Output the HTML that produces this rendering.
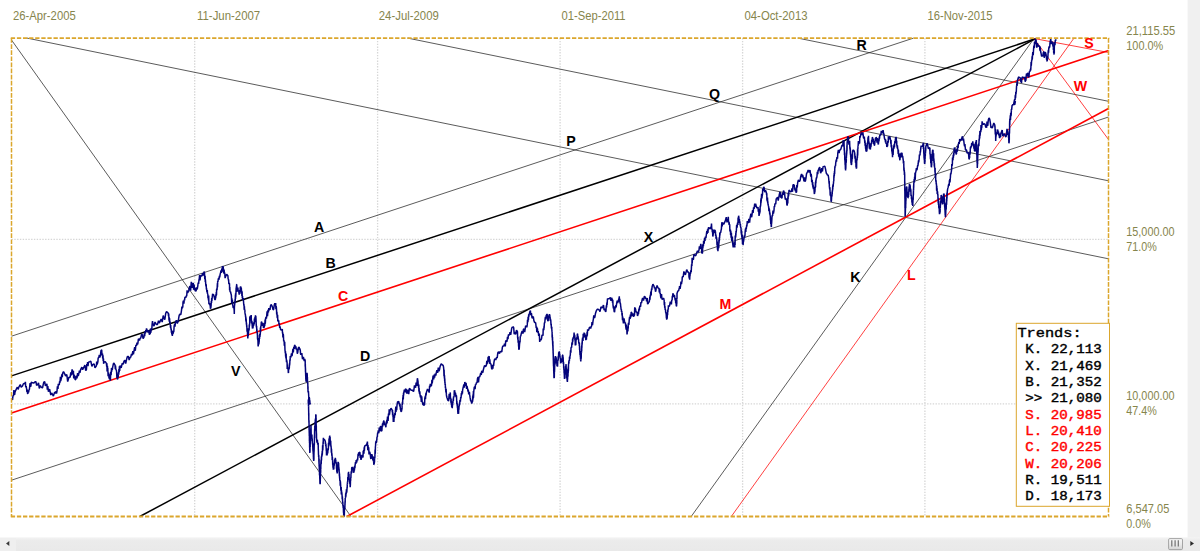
<!DOCTYPE html>
<html><head><meta charset="utf-8"><title>Trends chart</title>
<style>
html,body{margin:0;padding:0;background:#fff;}
body{width:1200px;height:551px;overflow:hidden;position:relative;}
svg{display:block;position:absolute;left:0;top:0;}
.ax text{font-family:"Liberation Sans",sans-serif;font-size:12.4px;fill:#86854c;}
.lb text{font-family:"Liberation Sans",sans-serif;font-size:14.2px;font-weight:bold;text-anchor:middle;}
.tr text{font-family:"Liberation Mono",monospace;font-size:14.17px;font-weight:normal;white-space:pre;stroke-width:0.45px;}
</style></head><body>
<svg width="1200" height="551" viewBox="0 0 1200 551">
<rect x="0" y="0" width="1200" height="551" fill="#ffffff"/>
<!-- right gutter + bottom scrollbar -->
<rect x="1187.6" y="0" width="12.4" height="538" fill="#f0f0f0"/>
<defs><linearGradient id="tg" x1="0" y1="0" x2="0" y2="1"><stop offset="0" stop-color="#f7f7f7"/><stop offset="0.5" stop-color="#ebebeb"/><stop offset="1" stop-color="#d4d4d4"/></linearGradient>
<linearGradient id="sg" x1="0" y1="0" x2="0" y2="1"><stop offset="0" stop-color="#f4f4f4"/><stop offset="0.25" stop-color="#ebebeb"/><stop offset="1" stop-color="#e9e9e9"/></linearGradient></defs>
<rect x="0" y="537.3" width="1200" height="13.7" fill="url(#sg)"/>
<rect x="0" y="538" width="16" height="13" fill="#efefef"/>
<polygon points="6,543.5 9.3,540.9 9.3,546.1" fill="#3a3a3a"/>
<polygon points="1194,543.5 1190.3,540.9 1190.3,546.1" fill="#2a2a2a"/>
<rect x="1168.6" y="538.6" width="13.9" height="11" rx="1.2" fill="url(#tg)" stroke="#9c9c9c" stroke-width="0.9"/>
<g stroke="#707070" stroke-width="1.2"><line x1="1171.8" y1="540.2" x2="1171.8" y2="546.6"/><line x1="1175.1" y1="540.2" x2="1175.1" y2="546.6"/><line x1="1178.3" y1="540.2" x2="1178.3" y2="546.6"/></g>
<!-- grid -->
<g stroke="#d6d6d6" stroke-width="1.3" stroke-dasharray="1.4 1.4" fill="none">
<line x1="194.7" y1="38.1" x2="194.7" y2="516.5"/>
<line x1="377.6" y1="38.1" x2="377.6" y2="516.5"/>
<line x1="560.1" y1="38.1" x2="560.1" y2="516.5"/>
<line x1="742.6" y1="38.1" x2="742.6" y2="516.5"/>
<line x1="924.9" y1="38.1" x2="924.9" y2="516.5"/>
<line x1="11.5" y1="239.4" x2="1108.5" y2="239.4"/>
<line x1="11.5" y1="403.85" x2="1108.5" y2="403.85"/>
</g>
<!-- trend lines -->
<g fill="none" stroke-linecap="butt">
<line x1="27" y1="38.1" x2="1108.5" y2="258.8" stroke="#1a1a1a" stroke-width="0.72"/>
<line x1="407.6" y1="38.1" x2="1108.5" y2="180.8" stroke="#1a1a1a" stroke-width="0.72"/>
<line x1="797.8" y1="38.1" x2="1108.5" y2="101.3" stroke="#1a1a1a" stroke-width="0.72"/>
<line x1="11.5" y1="40" x2="351" y2="516.5" stroke="#1a1a1a" stroke-width="0.72"/>
<line x1="11.5" y1="336.2" x2="913.5" y2="38.1" stroke="#1a1a1a" stroke-width="0.72"/>
<line x1="11.5" y1="480.2" x2="1108.5" y2="117.0" stroke="#1a1a1a" stroke-width="0.72"/>
<line x1="691.2" y1="516.5" x2="1034" y2="38.5" stroke="#1a1a1a" stroke-width="0.72"/>
<line x1="731.3" y1="516.5" x2="1074" y2="38.1" stroke="#ff0000" stroke-width="0.75"/>
<line x1="1034" y1="38.5" x2="1108.5" y2="52.5" stroke="#ff0000" stroke-width="0.75"/>
<line x1="1034" y1="38.5" x2="1108.5" y2="139.5" stroke="#ff0000" stroke-width="0.75"/>
<line x1="11.5" y1="375.9" x2="1034.5" y2="39.0" stroke="#000" stroke-width="1.5"/>
<line x1="139.8" y1="516.5" x2="1034.5" y2="39.2" stroke="#000" stroke-width="1.5"/>
<line x1="11.5" y1="413.0" x2="1108.5" y2="50.6" stroke="#ff0000" stroke-width="1.6"/>
<line x1="346.8" y1="516.5" x2="1108.5" y2="108.5" stroke="#ff0000" stroke-width="1.6"/>
</g>
<!-- price -->
<polyline fill="none" stroke="#03037a" stroke-width="1.5" stroke-linejoin="bevel" points="11.5,398.0 12.0,398.5 12.5,400.0 13.0,395.3 13.5,396.2 13.9,390.0 14.6,395.0 15.0,392.2 15.6,390.6 16.5,388.7 17.4,387.1 18.1,389.4 18.8,387.2 20.3,384.6 21.2,387.3 22.5,386.0 23.3,383.9 24.3,383.4 25.0,384.0 25.4,381.8 25.7,387.3 26.0,386.8 26.2,386.2 26.6,388.9 26.9,391.9 27.2,389.5 27.5,393.5 27.9,393.6 28.4,390.2 28.6,392.5 29.0,389.9 29.4,389.4 29.9,384.7 30.1,383.2 30.5,386.8 30.9,385.9 31.3,382.2 32.5,382.8 33.7,383.1 35.1,381.7 35.9,381.7 36.6,385.4 37.6,384.7 38.5,382.8 39.3,388.5 40.3,385.6 41.3,387.2 42.0,387.8 42.6,387.7 43.3,384.1 43.8,382.2 44.7,381.7 45.4,385.9 46.3,384.7 46.9,383.8 47.3,389.6 47.8,386.0 48.4,391.7 48.8,391.0 49.6,389.1 50.8,395.1 51.6,392.9 52.6,394.7 53.4,396.1 54.7,391.9 55.6,393.5 56.0,391.0 56.5,393.6 57.0,391.1 57.4,386.3 58.0,388.9 58.3,383.8 58.9,384.7 59.3,384.7 59.6,381.4 60.0,382.6 60.4,376.9 60.7,381.1 61.2,378.8 61.4,378.2 61.8,374.3 62.3,377.1 62.6,373.4 63.5,371.6 64.7,373.9 65.6,375.9 66.8,374.5 67.7,381.6 68.9,377.2 69.6,377.7 70.2,376.8 70.8,372.3 71.3,375.5 72.1,369.4 72.6,370.9 73.1,374.7 73.4,370.7 73.7,378.5 74.0,374.7 74.5,376.3 74.8,376.5 75.1,379.7 75.8,379.5 76.4,375.5 77.0,378.4 77.6,373.1 78.3,376.1 78.9,373.4 79.4,370.6 79.9,372.9 80.6,369.7 81.9,367.1 82.6,369.7 83.9,367.2 84.9,365.0 85.7,370.6 86.4,369.7 86.8,364.0 87.2,366.3 87.6,362.1 88.0,366.1 88.5,362.0 88.9,362.2 89.9,361.7 90.8,361.1 91.9,366.3 92.7,364.7 94.1,363.8 95.0,367.9 96.4,365.9 96.7,361.5 97.1,364.4 97.5,363.2 97.9,361.6 98.2,357.5 98.5,357.9 98.9,357.2 99.3,355.0 99.7,357.6 100.1,356.5 100.6,354.0 101.0,350.6 101.4,350.2 101.7,349.9 101.9,353.5 102.1,355.8 102.5,353.6 102.7,358.5 103.0,355.3 103.2,361.0 103.5,358.4 103.6,363.8 103.9,362.2 105.3,361.7 106.4,363.4 106.7,366.7 106.9,363.2 107.1,371.6 107.4,365.8 107.6,368.2 107.8,368.1 108.1,376.2 108.3,375.8 108.5,372.6 108.7,373.8 109.0,378.1 109.2,375.9 109.4,379.2 109.7,379.0 110.1,374.2 110.4,380.7 110.7,371.8 111.1,375.3 111.5,368.1 111.7,371.6 112.0,367.7 112.3,370.0 112.7,367.2 113.4,363.7 114.0,363.1 114.7,364.7 115.0,364.8 115.3,369.2 115.5,365.6 115.8,369.1 116.1,370.0 116.3,369.9 116.6,371.9 116.9,378.0 117.2,373.9 117.4,379.5 117.7,378.5 118.0,375.8 118.2,377.4 118.4,372.3 118.7,374.8 118.9,369.1 119.2,372.1 119.4,366.4 119.7,371.0 120.0,365.9 120.2,365.9 121.2,367.9 122.2,363.4 123.2,364.2 124.0,361.3 124.9,360.1 125.7,363.6 126.5,359.7 127.4,356.4 128.5,356.5 129.1,360.1 130.2,357.2 130.7,357.3 131.5,353.9 132.1,355.5 132.8,351.1 133.4,354.4 134.0,350.9 134.7,347.1 135.3,350.8 135.9,344.8 136.5,345.9 137.0,342.5 137.5,344.6 137.9,343.1 138.4,338.8 139.0,339.6 139.5,340.5 140.1,338.4 140.8,337.9 141.5,334.6 142.2,334.3 143.1,338.6 144.0,337.1 144.3,333.5 144.7,336.3 145.0,331.3 145.4,333.4 145.8,330.1 146.1,331.8 146.5,328.4 147.2,330.6 148.1,332.5 148.7,330.3 149.4,334.6 150.3,333.4 150.5,328.6 150.9,332.8 151.2,328.2 151.5,329.7 151.8,329.5 152.1,324.6 152.5,321.0 152.8,323.4 154.0,326.1 155.0,322.0 156.5,324.6 157.5,324.4 158.5,320.7 159.3,323.1 160.3,320.9 161.2,319.0 162.2,322.1 163.2,315.5 164.0,318.3 164.8,319.6 165.7,313.3 166.5,311.7 167.4,312.4 168.3,313.3 168.5,316.1 168.7,313.5 169.0,320.5 169.2,317.4 169.4,322.0 169.6,318.2 169.8,323.0 170.1,321.5 170.3,324.6 170.5,327.7 170.7,325.1 171.0,329.7 171.2,328.5 171.4,332.7 171.7,330.0 171.8,334.5 172.1,332.1 172.3,335.9 172.6,333.8 173.0,331.1 173.2,333.5 173.5,331.8 173.8,331.6 174.1,326.5 174.4,325.0 174.8,324.0 175.0,326.8 175.3,323.4 176.3,320.2 177.3,323.6 178.3,320.9 178.7,318.0 179.0,316.3 179.4,314.8 179.8,314.8 180.1,313.8 180.5,314.6 180.8,314.7 181.2,312.3 181.6,309.6 181.9,306.6 182.3,308.2 182.8,306.8 183.0,302.2 183.4,300.7 183.9,303.6 184.3,299.5 184.6,300.4 184.9,297.3 185.3,297.1 185.9,297.7 186.3,295.6 186.7,296.3 187.1,290.3 187.6,293.1 188.1,291.8 188.7,291.3 189.1,288.3 189.9,286.0 190.6,290.6 191.3,281.8 192.0,287.9 192.8,283.3 193.3,283.4 193.6,289.8 194.1,284.6 194.5,290.1 195.0,287.9 195.3,290.8 196.1,291.1 196.5,287.4 197.2,289.4 197.8,285.8 198.2,282.7 198.6,284.0 199.0,279.5 199.2,279.3 199.6,275.0 200.0,280.5 200.4,277.0 201.0,275.4 201.9,276.2 202.5,273.1 203.3,275.5 204.1,272.0 204.3,271.6 204.5,273.1 204.7,277.6 204.8,279.3 205.1,275.8 205.3,281.9 205.4,279.5 205.7,283.6 205.8,284.8 206.0,286.4 206.2,284.2 206.4,289.5 206.6,288.3 206.8,291.3 207.1,292.3 207.3,290.0 207.5,294.0 207.8,293.8 208.0,298.2 208.2,295.9 208.5,300.4 208.7,295.6 208.9,303.9 209.2,302.9 209.4,304.6 209.6,303.2 209.9,304.8 210.2,305.7 210.4,308.3 210.6,308.6 210.8,308.0 211.1,305.7 211.3,301.0 211.5,303.0 211.7,298.1 211.9,300.9 212.2,297.3 212.4,295.8 212.6,293.9 212.9,294.6 213.5,294.4 214.0,296.0 214.8,299.7 215.4,299.6 215.5,296.1 215.7,298.3 215.9,294.3 216.1,296.3 216.3,292.1 216.5,295.4 216.6,289.4 216.8,288.6 217.0,290.2 217.1,289.2 217.4,283.4 217.5,287.1 217.7,281.1 217.9,282.0 218.3,278.8 218.7,278.4 219.0,279.8 219.4,275.7 219.7,277.4 220.2,273.9 220.6,272.6 221.0,270.5 221.4,272.9 221.8,268.5 222.2,271.6 222.4,266.3 222.9,267.0 223.2,266.2 223.6,271.8 223.8,273.4 224.1,269.6 224.5,274.3 224.7,272.6 225.1,278.1 225.4,277.0 226.6,274.2 227.9,275.8 228.1,278.8 228.3,279.0 228.5,280.3 228.6,279.6 228.8,283.6 229.0,284.0 229.2,283.4 229.5,283.6 229.6,290.2 229.8,287.1 230.0,291.3 230.2,291.7 230.4,292.1 230.6,291.7 230.9,293.7 231.2,294.3 231.4,295.7 231.7,303.5 231.9,298.3 232.1,301.7 232.4,299.7 232.7,304.6 232.9,305.9 233.1,307.5 233.4,307.9 233.7,306.6 233.9,306.9 234.2,310.8 234.3,314.0 234.4,307.2 234.5,305.7 234.7,304.5 234.8,302.4 234.9,301.3 235.0,303.6 235.1,298.9 235.2,301.0 235.4,294.7 235.5,299.0 235.6,293.3 235.7,297.3 235.8,295.8 235.9,294.2 236.1,288.9 236.2,291.9 236.3,286.4 236.4,290.9 236.6,284.5 236.7,284.5 237.0,287.8 237.3,289.5 237.6,291.7 237.9,287.6 238.2,291.7 238.6,291.1 238.8,291.9 239.2,294.6 239.5,291.3 239.7,290.1 240.0,293.6 240.3,286.9 240.7,286.9 240.9,287.0 241.1,289.7 241.3,287.8 241.5,291.9 241.7,290.7 241.9,296.0 242.1,291.6 242.3,298.3 242.5,296.0 242.7,299.3 242.9,299.6 243.1,298.3 243.3,298.2 243.5,301.2 243.8,305.5 244.0,304.2 244.2,309.8 244.4,306.2 244.6,310.5 244.8,309.6 245.0,312.9 245.2,314.5 245.4,314.6 245.6,317.1 245.7,316.3 245.8,320.7 246.0,317.6 246.1,322.0 246.2,319.3 246.4,324.4 246.5,322.8 246.7,326.8 246.8,325.2 247.0,331.0 247.1,331.7 247.3,328.2 247.4,330.0 247.5,334.0 247.6,333.1 247.8,338.5 247.9,337.1 248.1,334.4 248.2,335.9 248.4,331.8 248.5,333.2 248.7,328.3 248.8,330.9 249.0,329.9 249.1,330.0 249.3,324.5 249.4,326.3 249.6,324.1 249.7,323.8 249.8,316.5 250.0,320.8 250.2,317.4 250.3,319.1 250.4,315.8 250.7,319.7 250.9,316.2 251.2,315.1 251.4,322.3 251.7,323.4 251.9,320.8 252.2,325.6 252.5,328.6 252.7,322.5 252.9,328.4 253.2,325.6 253.5,324.1 253.7,325.6 253.9,322.4 254.2,324.2 254.4,318.5 254.7,322.2 255.0,317.0 255.2,317.9 255.4,315.8 255.6,315.5 255.7,320.9 255.8,316.1 256.0,318.9 256.1,321.1 256.2,324.4 256.3,326.2 256.5,327.5 256.6,325.9 256.8,330.9 256.9,328.8 257.0,332.0 257.1,330.8 257.3,334.4 257.4,333.0 257.5,338.4 257.7,339.6 257.8,340.1 257.9,338.0 258.1,345.7 258.2,346.4 258.3,344.5 258.5,344.6 258.6,341.1 258.8,344.3 259.0,342.6 259.2,341.3 259.4,335.0 259.5,338.9 259.7,333.9 259.9,336.9 260.1,334.8 260.3,334.0 260.4,327.5 260.6,332.3 260.8,326.4 261.0,326.1 261.2,324.1 261.3,322.4 261.5,321.9 261.7,322.1 262.3,325.8 262.9,322.8 263.5,327.8 264.2,327.1 264.5,323.4 264.7,326.1 265.1,319.5 265.3,323.8 265.6,318.4 265.9,317.4 266.1,317.0 266.4,318.7 266.7,315.8 267.1,311.2 267.5,316.2 268.0,309.8 268.4,312.4 268.8,308.0 269.2,310.1 269.7,308.9 270.0,309.8 270.5,305.8 271.1,304.6 271.8,305.4 272.4,307.0 273.0,309.6 273.6,309.7 274.3,304.9 274.8,303.3 275.5,304.6 275.7,303.0 275.9,309.2 276.1,306.5 276.3,306.9 276.5,309.2 276.7,314.5 276.9,311.7 277.2,317.4 277.4,317.8 277.6,314.8 277.8,321.0 278.0,319.6 278.3,322.0 278.7,320.2 278.9,324.1 279.3,323.4 279.7,328.0 280.0,326.5 280.7,329.8 281.5,329.9 282.1,329.6 282.3,329.1 282.5,333.4 282.7,332.3 282.9,337.5 283.1,333.9 283.4,335.0 283.5,337.5 283.7,341.5 284.0,340.3 284.2,342.2 284.3,345.7 284.5,342.3 284.7,341.7 284.8,345.0 285.0,350.5 285.1,350.8 285.3,353.3 285.5,351.2 285.6,356.4 285.8,353.9 285.9,358.6 286.1,353.6 286.3,358.9 286.5,362.3 286.6,360.0 286.8,361.0 287.1,362.6 287.2,369.1 287.4,364.6 287.6,369.0 287.8,368.0 287.9,368.1 288.2,370.1 288.3,372.6 288.5,372.9 288.6,367.8 288.8,367.9 289.0,369.3 289.2,368.4 289.3,368.3 289.5,363.2 289.6,365.5 289.8,363.0 289.9,359.5 290.1,360.7 290.3,356.0 290.4,356.8 290.9,357.4 291.5,353.3 292.0,356.1 292.5,352.6 292.9,348.8 293.3,352.4 293.8,346.8 294.2,348.9 294.6,345.1 295.0,345.3 295.4,348.5 295.9,346.3 296.3,349.6 296.9,348.8 297.3,353.7 297.7,352.6 298.1,349.6 298.5,347.5 298.9,347.3 299.2,347.4 299.5,349.6 299.8,348.7 300.0,349.1 300.3,350.4 300.6,354.2 300.9,354.7 301.8,353.1 302.5,359.2 303.4,356.8 303.8,359.2 304.3,361.0 304.7,358.8 305.0,360.9 305.1,359.9 305.2,361.2 305.2,366.5 305.3,364.0 305.4,368.5 305.4,366.7 305.5,372.0 305.5,368.5 305.6,373.3 305.6,372.3 305.7,376.0 305.8,376.9 305.8,378.6 305.9,379.5 306.0,381.1 306.0,379.2 306.1,381.8 306.2,381.4 306.4,378.4 306.5,379.6 306.7,374.9 306.8,377.3 307.0,372.9 307.1,373.5 307.2,375.6 307.2,373.8 307.3,379.4 307.4,376.9 307.5,382.4 307.5,382.3 307.6,383.6 307.7,382.6 307.7,383.0 307.8,383.2 307.9,389.2 308.0,386.4 308.0,391.1 308.1,392.2 308.2,392.2 308.4,391.1 308.6,394.0 308.8,397.9 309.0,399.2 309.2,397.1 309.5,398.5 309.6,402.5 309.8,400.2 310.0,404.1 310.3,404.3 309.7,401.8 309.2,401.0 308.8,399.1 308.3,400.0 308.3,402.8 308.4,404.2 308.4,403.1 308.5,404.1 308.5,404.9 308.5,406.6 308.6,405.5 308.6,408.3 308.7,412.5 308.7,415.6 308.7,413.2 308.8,413.4 308.8,415.4 308.8,419.5 308.9,420.7 308.9,422.4 309.0,421.8 309.0,420.5 309.0,421.7 309.1,427.0 309.1,428.3 309.1,430.3 309.2,426.8 309.2,432.6 309.2,429.2 309.3,435.9 309.3,433.6 309.4,431.7 309.4,435.0 309.4,440.9 309.5,438.4 309.5,442.9 309.5,440.6 309.6,441.3 309.6,442.2 309.6,447.4 309.7,445.2 309.7,449.7 309.8,451.1 309.8,453.1 309.8,452.3 309.9,452.0 310.0,451.4 310.0,451.7 310.0,446.6 310.1,443.8 310.2,447.0 310.2,441.0 310.3,444.2 310.3,442.6 310.4,442.3 310.5,435.7 310.5,438.9 310.6,434.3 310.6,438.8 310.7,432.6 310.7,434.4 310.8,428.5 310.8,431.5 310.9,428.3 311.0,425.3 311.2,434.9 311.3,435.2 311.5,436.0 311.6,436.4 311.8,436.9 311.9,434.4 312.1,440.9 312.2,438.5 312.4,442.4 312.5,444.4 312.7,443.5 312.7,446.8 312.8,446.9 312.9,449.4 313.0,451.1 313.0,451.5 313.1,448.7 313.2,453.7 313.3,452.0 313.4,457.0 313.4,454.7 313.5,459.6 313.6,459.4 313.7,458.7 313.7,461.0 313.8,458.4 313.8,460.2 313.9,459.1 313.9,453.1 313.9,456.3 314.0,452.0 314.0,449.5 314.1,447.0 314.1,451.5 314.1,450.8 314.2,445.5 314.2,444.2 314.3,442.7 314.3,444.3 314.3,445.1 314.4,442.9 314.4,437.3 314.4,439.7 314.5,435.3 314.5,437.7 314.6,431.8 314.6,438.0 314.6,431.2 314.7,428.7 314.7,428.7 314.8,431.3 314.8,426.4 314.8,426.1 315.0,426.4 315.1,422.1 315.2,424.2 315.3,419.2 315.4,423.8 315.6,418.0 315.7,419.4 315.8,414.2 315.9,415.2 316.0,415.0 316.0,416.3 316.0,420.2 316.1,417.9 316.1,422.5 316.1,421.0 316.2,426.7 316.2,426.6 316.2,428.4 316.3,425.5 316.3,428.2 316.3,428.6 316.4,432.8 316.4,432.0 316.4,433.3 316.5,433.7 316.5,435.8 316.5,436.6 316.6,439.2 317.0,442.7 317.4,439.8 317.7,444.8 318.1,443.5 318.2,442.7 318.2,444.7 318.3,449.4 318.4,451.0 318.4,451.3 318.5,454.6 318.6,455.2 318.6,457.1 318.7,456.9 318.7,455.1 318.8,455.7 318.9,461.5 318.9,458.1 319.0,463.7 319.1,459.0 319.1,466.4 319.2,465.3 319.2,463.7 319.3,470.0 319.4,466.9 319.4,467.7 319.5,468.8 319.5,475.2 319.6,471.4 319.6,472.8 319.7,475.0 319.8,479.2 319.8,476.5 319.9,481.7 319.9,482.1 320.0,483.6 320.1,483.8 320.1,478.3 320.2,483.3 320.2,484.2 320.3,480.7 320.3,474.8 320.4,478.7 320.4,474.5 320.5,475.9 320.5,471.1 320.6,470.4 320.6,469.0 320.7,472.7 320.7,466.7 320.8,469.4 320.8,463.7 320.9,465.3 320.9,463.1 321.1,459.8 321.2,463.9 321.4,456.8 321.5,460.5 321.6,455.7 321.8,456.6 321.9,453.6 322.0,456.2 322.2,451.1 322.3,454.6 322.5,450.1 322.6,445.2 322.7,450.2 322.8,450.2 323.0,446.0 323.1,441.7 323.2,444.1 323.3,439.2 323.4,437.9 323.5,439.2 324.6,439.7 325.3,441.4 325.4,444.3 325.6,442.5 325.7,446.2 325.9,444.0 326.0,445.2 326.1,447.1 326.3,451.0 326.4,448.5 326.5,455.6 326.6,450.2 326.8,454.4 327.1,455.4 327.3,451.6 327.7,453.4 327.9,450.1 328.1,448.1 328.2,450.1 328.4,448.0 328.5,442.8 328.7,446.4 328.9,444.8 329.0,438.8 329.1,441.9 329.3,437.7 329.5,439.5 329.6,435.9 329.8,436.0 329.9,440.2 330.1,437.1 330.3,444.3 330.4,440.6 330.6,445.5 330.7,440.7 330.9,446.7 331.0,445.6 331.2,447.9 331.3,451.7 331.4,452.6 331.5,448.9 331.6,451.6 331.8,455.8 331.9,453.2 332.0,455.3 332.1,455.9 332.2,460.1 332.4,457.0 332.5,460.7 332.6,459.8 332.7,464.8 332.8,462.7 333.0,467.8 333.1,464.6 333.2,466.1 333.3,469.7 333.6,466.8 333.8,469.5 334.0,463.7 334.2,465.7 334.4,463.1 334.7,459.4 335.0,462.8 335.3,457.8 335.5,458.8 335.7,460.9 335.8,460.1 335.9,463.4 336.1,462.1 336.2,462.8 336.4,464.0 336.5,468.8 336.6,466.3 336.8,471.8 336.9,468.4 337.0,471.8 337.2,473.4 337.4,466.9 337.5,470.1 337.7,465.1 337.9,469.4 338.0,461.8 338.2,464.9 338.3,462.1 338.5,465.6 338.6,465.4 338.6,463.0 338.8,468.1 338.9,467.3 339.0,471.7 339.1,468.7 339.2,472.7 339.3,472.1 339.4,476.3 339.5,473.4 339.6,478.5 339.7,476.4 339.8,480.4 339.9,480.6 340.1,479.9 340.2,485.7 340.4,481.3 340.6,484.5 340.8,489.0 340.9,490.7 341.2,487.1 341.3,494.5 341.5,490.3 341.7,494.0 341.8,492.3 342.1,495.8 342.2,499.3 342.3,496.5 342.4,496.4 342.5,499.4 342.7,503.0 342.8,501.7 343.0,506.7 343.1,506.6 343.2,507.9 343.3,505.3 343.5,512.7 343.6,509.3 343.7,515.4 343.8,515.0 344.0,515.9 344.1,513.1 344.2,516.5 344.3,516.6 344.4,511.6 344.4,510.7 344.5,507.9 344.6,506.8 344.7,507.8 344.7,509.4 344.8,508.6 344.9,507.2 345.0,502.4 345.0,504.9 345.1,500.7 345.2,502.4 345.2,497.9 345.3,498.0 345.5,497.9 345.7,493.4 345.9,496.8 346.1,491.8 346.3,493.7 346.4,489.3 346.6,492.3 346.8,492.1 347.1,487.1 347.2,487.9 347.3,483.8 347.4,484.6 347.5,481.4 347.7,482.2 347.8,476.9 347.9,480.2 348.1,479.4 348.2,477.8 348.3,472.7 348.4,474.2 348.6,471.8 348.7,474.6 348.9,476.1 349.0,473.9 349.1,478.5 349.3,479.4 349.4,479.9 349.5,478.6 349.7,483.8 349.8,480.1 350.0,482.3 350.1,484.9 350.2,487.3 350.4,484.4 350.5,479.2 350.6,481.0 350.8,477.3 350.9,478.2 351.0,474.0 351.1,474.1 351.2,471.3 351.4,471.5 351.5,473.1 351.6,471.6 351.7,467.5 351.8,467.5 352.3,470.2 352.8,466.9 353.5,472.7 354.0,471.8 354.2,469.1 354.4,470.4 354.7,465.7 354.9,468.3 355.1,465.3 355.5,462.2 355.8,464.0 356.2,460.0 356.6,462.6 356.9,461.0 357.3,458.8 357.6,460.5 358.1,453.9 358.4,456.3 358.7,452.4 359.1,454.2 359.5,452.3 359.8,452.1 360.0,453.7 360.2,458.0 360.5,454.8 360.7,457.6 361.0,459.9 361.5,458.1 362.2,455.0 362.7,456.6 363.0,457.4 363.2,450.8 363.5,453.8 363.7,450.0 363.9,453.8 364.2,447.4 364.4,450.7 364.6,446.4 364.9,445.7 365.9,445.5 367.1,443.5 367.4,441.5 367.8,450.1 368.0,445.1 368.4,450.4 368.7,447.3 369.0,454.4 369.3,452.3 369.6,451.8 370.0,453.0 370.3,454.6 370.7,458.3 371.0,458.8 371.8,454.1 372.5,456.6 372.8,460.2 373.0,456.3 373.3,461.3 373.6,460.6 373.8,464.8 374.1,464.2 374.1,461.9 374.2,464.1 374.4,457.9 374.5,462.5 374.6,456.9 374.7,458.2 374.8,458.4 374.9,456.2 375.0,452.4 375.1,449.5 375.2,453.7 375.3,453.2 375.4,446.4 375.5,446.5 375.6,445.3 375.7,442.4 375.8,443.5 376.0,440.8 376.2,442.7 376.6,441.3 376.8,439.6 377.0,436.9 377.3,437.4 377.5,434.4 377.7,432.6 378.0,432.7 378.3,430.6 378.8,433.3 379.2,427.6 379.7,431.5 380.2,427.2 380.8,426.1 381.3,431.2 381.9,430.5 382.1,427.1 382.3,425.5 382.5,423.6 382.8,426.4 382.9,422.8 383.2,424.5 383.4,421.8 383.9,420.5 384.6,425.1 385.0,423.7 385.6,426.1 385.9,427.2 386.2,421.5 386.5,424.1 386.9,419.9 387.1,423.1 387.5,416.5 387.8,417.4 388.1,420.9 388.5,413.5 388.9,415.5 389.2,409.2 389.5,414.6 389.9,410.9 391.0,408.2 392.1,409.8 392.3,412.1 392.5,409.9 392.6,415.6 392.8,412.3 393.0,416.9 393.1,415.6 393.3,422.0 393.5,417.9 393.7,420.7 393.9,422.0 394.2,414.9 394.4,418.0 394.7,414.1 394.9,413.1 395.2,415.1 395.4,411.6 395.8,406.6 396.0,411.9 396.3,407.6 396.5,408.9 396.7,410.2 397.0,405.2 397.6,401.7 398.1,401.9 398.8,401.4 399.0,404.1 399.4,402.7 399.7,406.5 400.0,403.9 400.4,409.7 400.6,408.0 400.9,411.5 401.3,411.5 401.4,411.3 401.6,411.2 401.7,409.2 402.0,409.6 402.1,404.6 402.2,405.3 402.4,401.9 402.6,404.3 402.8,397.4 402.9,399.7 403.1,395.0 403.3,399.6 403.5,392.8 403.6,395.5 403.8,392.7 404.4,389.7 405.0,392.4 405.5,388.9 406.2,389.3 406.7,393.5 407.5,392.7 408.0,389.7 408.7,394.2 409.4,388.3 410.0,388.9 411.2,390.3 412.5,390.2 413.2,391.5 413.7,391.1 414.5,385.4 415.0,386.4 415.6,387.8 416.1,382.5 416.7,385.9 417.4,378.2 418.0,381.4 418.2,385.4 418.4,385.6 418.6,387.8 418.8,384.4 418.9,391.4 419.1,388.0 419.3,392.1 419.5,393.3 419.7,394.2 419.8,391.4 420.1,395.2 420.4,397.5 420.8,395.1 421.3,401.9 421.7,396.4 422.2,402.0 422.5,402.6 423.0,405.0 423.4,402.8 423.8,405.2 424.1,405.7 424.3,401.7 424.6,405.0 424.8,397.9 425.1,397.4 425.3,395.9 425.5,399.3 425.8,393.4 426.1,395.4 426.3,392.7 427.5,389.0 428.8,391.4 429.2,392.6 429.6,385.7 429.9,387.3 430.3,383.8 430.8,386.5 431.1,385.5 431.5,385.7 431.9,379.8 432.2,383.3 432.6,380.2 433.1,375.7 433.7,379.5 434.2,374.7 434.6,377.6 435.2,373.7 435.8,375.6 436.3,372.6 436.9,370.3 437.6,372.9 438.3,367.7 438.9,371.3 439.5,369.7 440.1,366.4 441.2,363.8 442.6,365.1 442.9,365.1 443.3,365.8 443.6,367.6 443.8,370.1 444.0,376.3 444.1,369.8 444.2,374.8 444.3,374.4 444.4,378.4 444.5,375.2 444.7,381.3 444.8,378.4 444.9,382.9 445.0,381.7 445.1,385.3 445.3,384.0 445.4,388.1 445.5,386.7 445.6,388.9 445.9,392.4 446.1,388.7 446.4,394.9 446.7,396.8 447.0,397.8 447.2,398.3 447.5,399.2 447.8,400.7 448.1,400.2 448.6,401.1 449.2,393.9 449.5,398.5 450.1,395.2 450.3,392.4 450.5,399.6 450.7,397.7 450.9,402.8 451.1,398.7 451.3,404.6 451.5,401.4 451.7,407.2 451.9,404.0 452.1,407.7 452.3,407.7 452.5,403.5 452.7,405.4 452.8,401.7 453.0,402.6 453.2,398.5 453.4,401.1 453.5,396.6 453.7,397.1 453.9,397.3 454.1,395.9 454.3,390.4 454.4,393.0 454.6,390.2 454.9,392.8 455.2,393.8 455.5,392.9 455.8,396.6 456.1,394.8 456.4,397.7 456.5,395.4 456.6,398.5 456.8,403.9 456.9,401.0 457.1,405.5 457.2,403.2 457.4,407.7 457.5,406.0 457.7,410.1 457.8,411.8 458.0,413.9 458.1,412.7 458.3,409.6 458.6,413.8 458.7,407.2 458.9,409.7 459.1,404.3 459.3,406.1 459.5,402.6 459.7,404.7 459.9,400.2 460.1,400.2 460.4,401.6 460.7,397.1 461.0,398.5 461.4,393.0 461.7,395.2 462.0,391.0 462.4,393.8 462.6,390.2 463.1,387.7 463.5,386.1 463.8,384.5 464.3,387.7 464.8,382.0 465.1,382.7 465.6,385.8 466.1,382.9 466.6,389.0 467.0,385.9 467.6,388.9 468.0,391.7 468.3,389.5 468.7,394.5 469.0,392.6 469.4,391.8 469.7,394.9 470.1,397.7 470.7,401.1 471.2,401.2 471.7,403.5 472.1,402.7 472.3,399.7 472.5,401.9 472.7,396.3 472.8,400.4 473.0,394.5 473.2,398.5 473.4,391.1 473.5,397.6 473.7,392.4 473.9,390.2 474.3,387.1 474.8,386.8 475.1,389.1 475.5,384.2 476.0,384.7 476.4,382.7 477.0,382.9 477.5,378.6 478.1,377.0 478.5,382.4 479.1,376.5 479.7,377.0 480.2,375.1 480.7,373.0 481.3,375.0 481.7,370.7 482.3,372.2 482.8,372.6 483.4,369.5 483.9,367.6 484.6,365.5 485.6,366.7 486.4,365.1 486.8,361.1 487.1,364.2 487.4,360.2 487.8,362.2 488.1,356.9 488.4,357.6 488.8,356.7 489.2,356.2 489.5,363.7 489.8,359.3 490.2,363.9 490.7,363.6 491.1,364.7 491.7,369.0 492.2,368.9 492.5,365.0 492.9,368.8 493.2,364.6 493.6,365.9 493.9,362.6 494.4,359.8 495.2,358.7 495.8,360.0 496.4,357.6 497.2,357.8 497.8,352.8 498.4,351.8 499.0,352.6 499.5,353.6 500.2,351.4 500.9,351.6 501.8,351.8 502.4,347.1 503.3,345.5 503.9,346.3 504.5,343.6 505.3,346.4 505.7,340.5 506.5,341.3 507.0,341.4 507.5,336.9 508.0,339.2 508.4,334.6 509.0,335.1 509.6,334.9 510.0,332.0 510.7,334.8 511.1,332.3 511.6,328.8 512.2,327.0 512.7,327.6 513.2,326.6 513.7,327.8 514.2,334.3 514.8,332.0 515.2,333.8 515.8,334.2 516.5,330.1 517.2,331.3 517.3,330.8 517.5,332.7 517.6,337.3 517.7,338.0 517.9,339.6 518.0,336.7 518.1,342.6 518.2,342.6 518.3,340.4 518.5,342.7 518.6,346.4 518.7,345.3 518.8,349.7 519.0,348.9 519.1,349.5 519.3,348.0 519.5,344.4 519.7,343.0 519.9,341.2 520.0,342.3 520.2,338.0 520.3,336.6 520.5,335.9 520.7,336.3 521.3,333.4 521.6,332.5 522.2,330.9 522.6,332.8 523.1,333.4 523.4,329.3 524.0,328.8 524.7,332.1 525.6,325.8 526.5,326.3 526.8,327.3 527.0,326.3 527.3,324.4 527.5,319.8 527.9,322.1 528.1,316.9 528.4,320.2 528.7,314.4 528.9,316.8 529.2,313.5 529.5,314.3 529.7,312.0 530.4,310.6 530.8,315.3 531.4,313.1 532.1,318.1 532.7,317.5 533.3,316.5 533.9,320.6 534.7,322.6 535.3,322.6 535.6,322.5 535.8,324.0 536.2,327.8 536.5,326.5 536.8,332.1 537.1,327.6 537.5,329.0 537.8,332.6 538.2,331.2 538.7,336.0 539.3,333.5 539.7,341.9 540.3,338.8 540.9,340.3 541.5,338.8 542.0,335.2 542.8,335.1 543.0,335.7 543.2,328.6 543.3,329.7 543.6,329.4 543.8,330.1 544.0,326.2 544.1,328.2 544.4,322.6 544.6,322.8 544.8,322.6 545.1,319.0 545.4,316.8 545.6,317.8 545.9,319.5 546.2,315.6 546.5,315.0 547.0,314.0 547.4,315.4 547.8,321.3 548.3,320.1 548.7,317.1 549.1,315.4 549.4,314.3 549.8,315.0 549.9,317.3 550.1,316.7 550.3,321.0 550.5,318.7 550.7,320.7 550.8,320.2 551.0,325.2 551.2,323.8 551.4,328.5 551.5,327.6 551.7,327.4 551.8,326.8 551.8,329.2 552.0,331.4 552.1,332.0 552.1,337.5 552.3,334.5 552.4,340.2 552.5,336.9 552.6,341.7 552.7,344.4 552.8,342.6 552.8,346.3 552.9,341.3 552.9,348.3 553.0,345.3 553.0,350.5 553.1,348.5 553.1,353.1 553.1,350.5 553.2,354.6 553.2,352.9 553.3,358.5 553.3,358.6 553.4,361.6 553.4,362.6 553.5,365.0 553.5,358.5 553.5,366.0 553.6,362.5 553.6,367.4 553.7,365.0 553.7,371.3 553.8,367.5 553.8,373.6 553.9,370.5 553.9,371.0 553.9,376.0 554.0,378.3 554.0,377.7 554.1,375.4 554.2,378.0 554.3,372.0 554.3,377.5 554.4,369.9 554.5,372.4 554.6,367.1 554.6,370.3 554.7,365.1 554.8,362.6 554.8,362.1 554.9,365.0 555.0,363.4 555.1,356.8 555.2,356.6 555.2,359.8 555.3,356.4 555.6,356.8 555.9,356.9 556.2,358.3 556.4,363.3 556.8,361.2 557.0,366.3 557.3,365.1 557.5,366.6 557.6,365.1 557.8,359.5 558.0,361.3 558.2,356.3 558.3,359.6 558.6,354.9 558.7,352.3 558.9,352.7 559.0,352.6 559.3,351.3 559.5,354.0 559.7,353.7 559.9,355.4 560.2,357.7 560.4,358.4 560.6,363.2 560.8,362.6 561.2,362.2 561.4,358.6 561.8,362.2 562.1,359.0 562.4,355.2 562.8,355.1 562.9,360.2 563.0,356.6 563.1,357.4 563.2,358.5 563.3,364.0 563.4,361.9 563.5,361.7 563.6,363.7 563.7,368.2 563.8,366.1 563.9,370.0 564.0,369.3 564.1,373.3 564.2,370.3 564.3,374.8 564.4,376.8 564.5,379.0 564.6,377.7 564.7,375.1 564.9,378.6 565.0,375.1 565.2,374.0 565.3,369.8 565.4,372.4 565.6,366.9 565.8,365.9 565.9,364.2 566.1,365.1 566.2,369.2 566.2,368.2 566.3,370.2 566.4,367.8 566.5,373.9 566.7,372.1 566.7,378.1 566.8,374.1 566.9,378.8 567.0,375.8 567.1,380.4 567.2,377.7 567.3,381.4 567.4,382.0 567.5,379.4 567.6,379.3 567.7,374.4 567.8,376.8 567.9,369.2 568.0,376.5 568.1,369.5 568.2,372.9 568.3,366.5 568.4,371.3 568.5,364.2 568.7,363.9 568.8,361.3 568.8,363.6 569.0,362.6 569.1,360.1 569.4,361.3 569.5,356.7 569.8,359.0 570.0,356.1 570.3,355.3 570.5,350.4 570.9,352.8 571.0,348.1 571.4,347.0 571.6,347.6 571.8,344.5 571.9,343.1 572.2,342.6 572.4,344.8 572.6,338.7 572.8,341.8 573.0,337.6 573.2,338.7 573.5,337.2 573.7,337.1 573.9,335.6 574.1,332.6 574.2,336.2 574.4,334.4 574.6,337.9 574.8,335.3 574.9,340.2 575.1,338.5 575.3,345.5 575.4,340.0 575.7,340.1 575.8,345.1 576.0,340.2 576.2,340.6 576.3,339.3 576.5,337.5 576.6,337.7 576.8,339.5 577.0,337.0 577.2,337.6 577.3,333.8 577.6,334.1 577.9,337.7 578.1,336.2 578.3,339.6 578.5,338.7 578.8,343.7 579.1,342.6 579.2,342.6 579.3,346.1 579.4,342.8 579.6,349.9 579.7,346.3 579.8,351.8 579.9,352.8 580.0,355.0 580.2,353.4 580.3,356.8 580.4,354.7 580.5,359.6 580.6,356.8 580.7,360.7 580.8,361.4 580.9,359.1 581.0,357.7 581.1,356.3 581.2,358.7 581.3,353.3 581.3,351.6 581.4,351.4 581.6,352.5 581.6,348.5 581.7,351.1 581.8,345.2 581.9,347.7 582.0,342.5 582.1,344.8 582.2,341.2 582.2,343.7 582.3,340.1 582.6,337.6 583.0,340.9 583.2,333.8 583.5,334.5 583.8,337.8 584.1,332.6 584.4,335.1 584.7,333.5 585.0,334.7 585.3,336.6 585.6,337.5 585.8,340.1 586.1,337.0 586.4,339.6 586.6,335.0 586.8,337.0 587.1,331.7 587.3,335.7 587.6,329.2 587.8,330.1 588.6,330.2 589.5,327.2 590.4,327.6 590.7,328.6 591.2,326.4 591.6,326.3 592.0,322.0 592.5,325.2 593.0,321.1 593.4,318.8 593.8,315.4 594.5,318.0 594.8,317.3 595.4,313.8 596.3,310.8 597.2,309.3 598.2,309.2 599.1,310.0 600.0,311.7 601.0,306.8 601.9,308.1 602.9,306.3 603.5,305.0 604.1,310.1 604.8,308.8 605.4,311.3 605.6,311.6 605.9,311.4 606.1,308.8 606.4,305.3 606.6,307.5 606.9,302.5 607.1,304.9 607.4,299.6 607.6,298.5 607.9,298.8 609.3,298.8 610.4,297.5 611.0,300.8 611.6,297.8 612.4,300.0 612.5,302.6 612.8,299.9 613.0,305.1 613.2,306.7 613.4,308.5 613.5,306.2 613.8,306.8 613.9,309.0 614.1,311.3 614.6,312.2 615.0,306.6 615.4,308.5 615.9,305.1 616.1,307.3 616.6,303.8 617.2,300.7 617.7,303.1 618.2,300.8 618.7,299.6 619.2,297.5 619.3,296.3 619.5,301.9 619.8,298.9 620.0,303.4 620.2,302.7 620.5,303.9 620.6,305.3 620.9,307.5 621.1,309.6 621.4,309.4 621.5,312.0 621.8,311.1 622.0,315.4 622.2,313.1 622.5,320.2 622.7,316.6 622.9,318.8 623.4,323.3 624.0,318.4 624.8,323.2 625.4,322.6 625.6,325.5 625.8,327.0 626.0,328.5 626.2,329.7 626.4,324.5 626.6,327.7 626.8,328.1 627.0,334.4 627.2,333.1 627.3,329.9 627.5,331.7 627.7,327.6 627.9,331.2 628.1,326.3 628.2,328.5 628.4,322.9 628.6,324.4 628.8,324.9 629.0,323.5 629.2,320.1 629.6,316.8 630.1,319.0 630.4,314.6 630.8,317.4 631.2,312.0 631.7,312.5 632.3,316.2 632.9,313.5 633.4,316.3 633.7,316.4 634.1,315.8 634.5,314.9 634.7,307.9 635.0,307.7 635.4,308.8 635.9,310.8 636.4,312.6 637.0,311.8 637.5,315.9 637.9,315.0 638.1,312.3 638.5,314.2 638.8,309.4 638.9,311.4 639.3,307.6 639.5,310.3 639.8,305.5 640.0,305.9 640.6,306.8 640.9,302.4 641.5,303.0 641.9,300.8 642.6,297.9 643.5,300.5 644.4,296.1 645.1,297.0 645.5,298.7 646.2,298.1 646.6,301.3 647.2,298.0 647.6,304.1 648.3,303.3 648.6,301.6 649.2,302.4 649.5,300.2 649.8,296.8 650.0,299.6 650.2,295.2 650.4,296.4 650.7,293.0 650.9,291.7 651.2,295.4 651.3,292.0 651.6,288.6 651.8,290.0 652.1,286.8 652.9,284.1 654.0,286.2 654.5,288.4 655.0,287.7 655.5,291.7 655.9,290.6 656.2,287.6 656.6,286.8 656.8,286.2 657.1,285.6 657.9,287.7 658.4,288.3 659.0,288.1 659.3,292.5 659.7,288.9 660.0,293.8 660.3,293.2 660.7,297.0 661.1,298.3 661.5,294.1 661.8,297.3 662.2,299.5 663.5,298.3 663.7,298.4 664.0,299.5 664.1,299.5 664.3,305.3 664.6,302.1 664.7,307.7 664.9,306.0 665.2,309.9 665.4,309.7 665.5,309.9 665.7,312.6 665.9,312.0 666.0,313.4 666.2,314.3 666.4,318.1 666.5,316.9 666.7,319.6 666.8,316.9 667.0,314.8 667.2,318.7 667.3,312.4 667.6,315.2 667.7,309.9 667.9,311.9 668.0,308.7 668.3,309.7 668.4,305.2 668.6,305.9 669.5,306.2 670.3,301.7 671.1,303.3 671.4,304.4 671.7,300.1 672.1,300.2 672.3,296.3 672.7,295.9 672.9,293.3 673.3,294.4 673.8,297.2 674.4,294.9 674.9,298.3 675.2,300.3 675.5,298.1 675.7,303.2 676.0,301.7 676.3,306.2 676.6,305.9 676.6,303.1 676.7,304.4 676.7,304.0 676.8,303.4 676.8,298.9 676.9,299.2 676.9,299.1 677.0,298.0 677.0,293.0 677.1,293.2 677.8,291.1 678.7,290.6 679.3,287.9 679.6,286.0 680.1,289.0 680.6,285.6 681.0,281.5 681.2,281.9 681.5,284.2 681.8,281.6 682.0,281.7 682.3,276.7 682.5,276.7 683.2,276.8 683.9,271.4 684.4,272.9 685.4,274.9 686.7,269.6 687.6,271.6 688.9,272.9 689.0,277.5 689.1,272.6 689.3,278.5 689.4,276.0 689.5,278.6 689.7,279.6 689.9,273.7 690.0,276.2 690.2,273.1 690.4,273.9 690.6,273.1 690.8,270.3 691.0,271.5 691.2,272.2 691.4,268.1 691.6,264.4 691.9,265.9 692.1,257.8 692.2,263.2 692.5,258.1 692.7,258.9 693.4,259.8 693.9,254.2 694.6,255.1 695.7,255.9 696.5,253.2 697.5,250.9 698.2,252.4 699.0,250.0 699.4,246.4 699.8,248.6 700.1,248.9 700.6,245.1 700.8,243.8 701.1,246.2 701.3,246.8 701.6,248.3 701.8,253.3 702.1,252.7 702.3,253.5 702.5,252.6 702.7,244.5 702.9,248.3 703.1,244.0 703.4,246.1 703.6,240.9 703.8,242.6 704.2,243.7 704.6,237.8 705.0,241.0 705.4,236.5 705.9,238.2 706.3,235.1 706.8,231.2 707.1,233.9 707.6,229.4 707.9,233.0 708.3,228.1 708.8,227.6 710.2,228.9 711.3,226.4 711.5,223.6 711.8,229.7 712.1,228.7 712.3,232.1 712.5,229.5 712.8,236.5 713.1,235.1 713.6,229.5 714.1,233.2 714.5,230.3 715.1,230.1 715.2,232.2 715.5,231.6 715.6,236.1 715.8,234.2 716.0,238.4 716.1,235.6 716.3,238.9 716.5,237.2 716.8,239.5 717.0,245.3 717.2,241.6 717.5,249.8 717.7,244.2 717.9,251.3 718.1,248.9 718.2,246.2 718.4,245.2 718.6,247.7 718.7,248.2 718.9,239.9 719.0,243.3 719.2,237.6 719.3,241.1 719.5,237.0 719.6,237.9 719.8,232.8 719.9,235.4 720.1,232.6 720.4,232.6 720.7,232.7 721.0,230.6 721.4,229.0 721.7,224.1 722.0,222.2 722.2,226.4 722.6,222.6 723.6,224.5 725.1,221.4 726.3,217.1 727.0,222.4 728.1,218.9 728.3,216.7 728.5,221.9 728.8,221.5 729.0,224.6 729.2,222.3 729.4,225.3 729.7,224.2 729.9,231.5 730.1,230.1 730.4,229.6 730.6,235.0 730.8,230.9 731.1,237.6 731.4,232.7 731.6,240.0 731.9,240.8 732.2,239.3 732.4,236.6 732.6,242.6 733.2,247.4 733.9,242.3 734.6,245.1 734.8,247.5 734.9,241.6 735.1,245.1 735.2,235.5 735.3,237.0 735.5,235.8 735.7,237.5 735.8,233.0 735.9,235.9 736.0,231.0 736.2,232.4 736.4,230.1 736.6,225.3 736.9,225.3 737.1,227.8 737.4,224.0 737.6,222.6 737.9,224.9 738.1,217.4 738.3,222.8 738.6,215.7 738.9,217.6 739.1,222.9 739.4,219.0 739.6,222.5 739.8,221.4 740.2,225.8 740.4,224.1 740.6,227.2 740.9,227.6 741.0,227.9 741.2,233.4 741.4,230.0 741.5,235.2 741.7,231.2 741.8,237.4 742.0,235.3 742.2,240.1 742.3,234.8 742.5,244.2 742.7,239.7 742.8,243.8 743.0,241.5 743.1,245.1 743.3,242.3 743.5,241.6 743.7,240.5 743.9,239.1 744.2,237.0 744.3,235.5 744.6,237.4 744.7,236.7 745.0,235.0 745.1,232.6 745.5,228.7 745.8,232.0 746.1,227.4 746.3,229.0 746.7,224.8 746.9,226.4 747.3,221.1 747.6,222.6 748.3,222.8 748.9,218.9 749.6,222.6 750.1,217.6 750.6,215.3 751.0,213.7 751.4,216.5 751.7,217.2 752.3,212.5 752.6,210.1 753.1,213.0 753.6,207.2 754.1,208.8 754.7,203.6 755.2,207.0 755.6,203.8 756.4,207.0 757.1,208.0 757.7,207.6 758.0,207.0 758.3,211.6 758.7,208.7 759.0,215.9 759.4,213.8 759.6,209.6 759.7,213.3 759.9,212.1 760.0,212.2 760.2,205.7 760.3,207.2 760.5,206.0 760.7,204.9 760.8,199.4 761.0,203.2 761.1,197.9 761.2,201.5 761.4,197.6 761.6,193.7 761.9,198.3 762.1,196.4 762.5,194.3 762.7,188.8 763.0,191.0 763.2,188.8 764.0,186.9 764.7,192.2 765.5,190.3 766.4,192.6 766.6,194.9 766.8,193.3 766.9,199.5 767.1,200.3 767.3,201.4 767.5,197.5 767.7,203.1 767.8,201.4 768.0,204.3 768.2,205.1 768.4,205.8 768.6,206.4 768.9,211.2 769.1,207.9 769.2,208.7 769.5,210.2 769.7,214.5 769.9,212.5 770.2,216.3 770.3,216.4 770.4,220.2 770.6,217.6 770.7,222.5 770.8,224.0 770.9,221.1 771.1,223.9 771.2,226.4 771.4,227.0 771.5,221.5 771.6,223.8 771.8,220.1 771.9,218.4 772.1,215.2 772.2,216.8 772.4,215.3 772.6,216.0 772.7,213.8 773.0,210.6 773.4,213.5 773.6,212.7 774.0,210.3 774.3,206.0 774.6,207.3 774.9,203.8 775.2,203.8 775.7,204.2 776.2,198.9 776.8,198.5 777.3,197.3 777.7,197.6 778.2,200.6 778.8,197.2 779.3,195.0 779.7,192.6 780.2,192.0 780.6,197.7 780.9,194.7 781.4,197.6 782.0,198.2 782.4,192.7 782.9,194.8 783.5,190.5 783.9,191.3 784.3,195.3 784.5,191.7 784.8,195.8 785.1,198.0 785.4,199.7 785.7,198.8 786.0,199.2 786.3,198.3 786.6,201.0 786.9,205.2 787.2,205.1 787.4,202.2 787.5,203.4 787.7,200.2 787.8,203.5 787.9,196.4 788.1,199.6 788.2,193.5 788.4,193.2 788.5,196.3 788.7,194.8 788.8,193.2 789.0,190.1 790.5,191.8 791.5,191.3 791.9,188.4 792.5,191.8 793.0,184.8 793.4,184.8 794.0,185.0 794.3,185.0 794.6,189.7 795.0,187.6 795.3,191.3 795.6,189.6 796.0,192.6 796.2,192.2 796.4,192.2 796.6,191.8 796.8,185.0 797.1,187.1 797.3,186.9 797.5,184.3 797.7,182.5 798.4,179.9 799.4,181.7 800.2,180.0 800.6,177.1 801.1,175.1 801.6,174.1 802.0,175.0 802.4,177.5 802.7,174.8 803.2,177.3 803.6,178.8 804.0,181.3 804.5,177.4 804.8,180.9 805.2,181.5 805.6,180.2 806.0,177.9 806.5,173.8 807.4,172.0 808.2,169.9 809.1,172.4 810.0,170.1 810.3,172.3 810.5,174.4 810.8,176.7 811.0,174.2 811.2,173.9 811.5,176.6 811.7,182.2 812.0,180.1 812.2,179.9 812.5,185.3 812.7,182.1 812.9,187.4 813.1,184.8 813.4,189.2 813.6,186.8 813.9,189.1 814.0,189.0 814.3,193.6 814.5,193.9 814.6,190.5 814.8,192.3 814.9,191.7 815.0,190.3 815.2,186.4 815.3,188.6 815.4,182.3 815.6,187.2 815.7,180.5 815.9,183.3 816.0,179.5 816.1,180.5 816.3,177.6 816.6,178.3 817.0,176.1 817.3,171.8 817.8,174.3 818.1,169.8 818.4,171.2 818.8,168.9 819.7,167.1 820.6,173.2 821.3,171.4 821.8,168.0 822.4,171.5 823.1,166.6 823.8,166.4 824.8,166.1 825.5,168.9 826.1,172.1 826.5,173.7 826.9,173.8 827.5,175.3 828.0,175.1 828.2,175.2 828.4,176.4 828.5,177.0 828.7,178.5 828.8,179.6 829.1,183.7 829.2,181.0 829.4,186.9 829.5,187.4 829.7,189.3 829.9,187.3 830.0,190.2 830.2,195.2 830.3,191.9 830.4,195.4 830.6,195.9 830.7,195.4 830.9,195.6 831.0,200.6 831.1,201.5 831.3,201.4 831.4,201.0 831.6,197.1 831.7,195.1 831.8,195.2 832.0,196.4 832.1,191.5 832.2,194.2 832.4,190.1 832.5,191.2 832.7,186.2 832.8,189.6 832.9,184.5 833.0,185.1 833.2,186.7 833.3,184.3 833.5,183.1 833.6,181.0 833.8,181.5 833.9,175.2 834.0,177.7 834.2,173.0 834.3,176.0 834.5,171.1 834.6,173.9 834.8,168.2 834.9,166.2 835.0,167.6 835.3,165.5 835.5,166.3 835.7,163.1 836.0,161.1 836.3,159.7 836.5,161.6 836.8,157.8 837.0,157.6 837.5,158.6 837.8,153.2 838.4,149.8 838.7,151.2 839.1,153.1 839.6,150.1 840.1,150.1 840.9,149.0 841.3,147.6 842.1,145.1 842.7,146.2 843.2,140.3 843.8,141.3 843.9,141.0 844.0,140.3 844.1,147.3 844.1,144.7 844.2,149.8 844.3,150.6 844.3,147.6 844.4,150.1 844.5,155.1 844.6,155.0 844.6,152.2 844.7,155.1 844.8,159.9 844.9,159.9 845.0,161.5 845.0,159.6 845.1,164.7 845.2,160.9 845.3,166.0 845.3,165.5 845.4,169.2 845.5,167.8 845.6,170.1 845.6,170.6 845.7,165.6 845.8,168.7 845.9,164.0 846.0,161.1 846.0,160.3 846.1,162.9 846.2,162.2 846.3,161.5 846.3,156.6 846.4,158.1 846.5,153.0 846.6,155.5 846.6,150.6 846.7,154.0 846.8,151.5 846.9,150.9 846.9,145.4 847.0,150.8 847.1,143.5 847.2,141.8 847.2,141.2 847.3,142.8 847.4,141.9 847.5,139.8 847.6,137.6 848.2,136.2 848.9,144.6 849.6,141.3 849.6,140.9 849.8,146.3 849.8,146.5 849.9,148.8 850.0,146.7 850.1,150.3 850.2,147.8 850.3,153.4 850.4,149.6 850.5,154.9 850.6,153.0 850.7,157.0 850.8,155.8 850.9,161.4 850.9,160.6 851.0,163.3 851.1,159.0 851.2,162.0 851.3,165.1 851.4,163.2 851.6,164.7 851.7,160.4 851.9,161.7 852.1,157.2 852.2,154.4 852.3,158.9 852.5,156.1 852.6,151.2 852.8,151.3 852.9,149.8 853.1,150.1 853.9,150.5 854.6,152.6 854.7,152.6 854.9,157.1 855.0,158.6 855.2,155.7 855.3,157.0 855.5,162.7 855.6,160.6 855.7,158.9 855.9,161.6 856.0,167.6 856.2,165.1 856.3,167.6 856.4,168.7 856.5,163.0 856.6,168.2 856.7,160.4 856.9,160.2 857.0,158.6 857.1,160.3 857.2,156.4 857.2,158.0 857.4,154.0 857.4,158.0 857.6,148.8 857.7,155.4 857.8,149.1 857.9,149.8 858.0,145.9 858.1,146.3 858.4,141.1 858.6,142.2 858.9,144.2 859.2,142.7 859.6,143.4 859.8,136.0 860.1,137.6 860.8,134.3 861.3,132.5 862.1,135.0 862.6,132.6 862.9,132.9 863.3,135.9 863.5,137.8 863.9,138.4 864.3,136.5 864.6,140.1 864.8,143.0 865.0,140.4 865.1,145.7 865.3,142.7 865.6,148.6 865.7,145.1 865.9,150.2 866.1,151.5 866.3,151.3 866.5,147.6 866.6,148.3 866.8,151.4 867.0,148.7 867.1,147.8 867.3,142.9 867.5,144.1 867.6,143.0 867.8,141.5 868.0,137.8 868.1,137.6 868.3,140.7 868.5,135.8 868.7,143.5 869.0,141.5 869.2,146.3 869.4,148.8 869.7,143.8 869.9,143.6 870.1,148.8 870.4,149.4 870.6,144.2 870.9,147.3 871.3,142.9 871.5,143.9 871.7,139.8 872.1,141.0 872.3,137.4 872.6,137.6 873.0,142.3 873.3,138.9 873.6,143.9 873.9,143.5 874.3,145.3 874.6,145.1 875.0,141.2 875.2,141.0 875.5,137.9 875.8,141.0 876.1,137.1 876.4,137.6 876.8,140.3 877.0,142.6 877.4,138.8 877.8,138.7 878.1,143.8 878.4,144.4 878.7,140.6 879.0,141.5 879.3,136.5 879.5,138.7 879.8,135.1 880.1,135.1 880.8,135.0 881.3,130.9 882.0,133.2 882.6,131.3 883.1,130.2 883.5,133.1 883.9,134.1 884.4,138.0 884.8,139.6 885.1,138.8 885.5,142.4 885.7,139.5 886.1,144.0 886.5,142.7 886.8,146.9 887.1,146.3 887.4,146.5 887.6,145.3 887.8,141.0 888.2,142.7 888.4,136.2 888.6,140.0 888.9,137.6 889.8,136.4 890.6,140.1 890.8,143.7 891.0,140.0 891.2,146.2 891.3,147.0 891.5,147.2 891.6,145.1 891.8,151.5 892.0,148.7 892.2,153.8 892.3,148.6 892.5,157.2 892.6,155.1 892.9,152.6 893.1,155.0 893.3,149.5 893.6,147.6 893.8,145.5 893.9,148.8 894.2,144.0 894.5,147.2 894.6,143.8 894.9,141.1 895.2,142.8 895.4,139.1 895.6,138.2 895.9,137.6 896.1,136.9 896.3,139.0 896.5,143.8 896.7,140.7 896.8,145.2 897.0,145.6 897.3,148.3 897.4,145.4 897.7,148.8 897.9,148.8 898.2,154.0 898.4,149.8 898.7,156.6 898.9,154.1 899.2,154.9 899.4,156.8 899.7,158.9 899.9,160.3 900.4,153.4 900.7,157.6 901.0,156.4 901.4,152.6 901.7,155.9 902.0,152.9 902.3,157.2 902.6,155.9 902.8,157.0 903.2,160.1 903.3,159.8 903.4,163.6 903.5,162.0 903.7,161.0 903.8,164.7 903.9,170.4 904.0,167.6 904.2,171.5 904.3,170.0 904.4,175.1 904.5,171.7 904.7,175.1 904.7,178.8 904.7,178.5 904.7,180.0 904.7,182.3 904.7,183.2 904.8,181.8 904.8,186.5 904.8,182.8 904.8,188.3 904.8,186.4 904.8,191.0 904.8,187.8 904.9,194.4 904.9,193.6 904.9,194.9 904.9,192.8 904.9,198.6 904.9,196.8 905.0,200.6 905.0,202.7 905.0,203.3 905.0,201.0 905.0,208.1 905.0,204.5 905.0,207.6 905.1,206.8 905.1,212.5 905.1,208.3 905.1,213.2 905.1,214.8 905.1,216.8 905.2,213.1 905.2,216.5 905.2,216.1 905.3,211.0 905.3,214.3 905.4,210.2 905.4,211.5 905.5,205.0 905.5,206.4 905.6,208.1 905.7,207.8 905.7,201.8 905.8,204.2 905.8,199.8 905.9,198.3 905.9,201.2 906.0,199.0 906.0,194.2 906.1,195.8 906.1,191.6 906.2,193.7 906.2,192.9 906.3,191.2 906.4,187.5 906.4,187.7 906.7,186.5 906.8,187.1 907.1,192.7 907.3,195.0 907.5,196.6 907.8,194.2 907.9,197.8 908.2,197.7 908.3,195.5 908.5,197.1 908.6,191.8 908.7,195.1 908.9,188.8 909.0,191.5 909.1,186.6 909.3,189.9 909.4,183.9 909.5,186.6 909.7,183.9 909.9,186.3 910.0,188.7 910.2,185.2 910.3,191.8 910.5,189.3 910.6,188.5 910.9,190.7 911.0,196.0 911.2,195.2 911.3,194.8 911.5,199.1 911.8,198.0 911.9,202.5 912.1,199.6 912.3,205.0 912.5,202.9 912.7,205.2 912.8,205.9 912.8,200.9 912.9,202.8 913.0,197.2 913.0,200.0 913.1,196.3 913.2,199.8 913.2,196.4 913.3,195.3 913.4,191.6 913.4,195.3 913.5,188.7 913.6,190.6 913.6,185.6 913.7,187.8 913.8,182.8 913.9,182.7 913.9,182.6 914.2,179.1 914.4,182.5 914.6,176.8 914.8,180.2 915.0,172.8 915.2,179.7 915.5,172.4 915.7,172.6 916.1,170.3 916.4,168.0 916.7,170.2 917.1,169.5 917.4,167.1 917.7,165.1 917.9,166.2 918.2,163.7 918.5,160.2 918.7,162.5 918.9,160.9 919.2,158.8 919.4,154.6 919.7,155.1 920.0,155.2 920.2,151.1 920.4,152.4 920.7,149.2 921.0,146.4 921.2,145.6 921.4,146.3 922.4,146.2 923.2,143.8 923.3,142.9 923.4,149.1 923.5,142.8 923.6,147.2 923.7,147.3 923.8,153.5 923.9,150.5 923.9,152.6 924.0,156.3 924.1,158.4 924.2,156.1 924.3,160.0 924.4,159.3 924.5,163.5 924.6,161.2 924.7,163.9 924.8,163.3 924.9,159.1 925.0,161.8 925.0,157.7 925.1,159.1 925.2,153.6 925.3,156.4 925.4,152.8 925.5,153.6 925.6,148.0 925.7,151.3 925.8,147.3 925.9,145.7 926.0,146.3 927.0,143.3 927.7,145.1 928.3,148.5 929.1,148.0 929.7,147.6 929.8,150.8 929.9,148.0 930.0,154.0 930.2,154.4 930.3,155.4 930.4,157.7 930.5,159.1 930.6,153.7 930.8,163.3 930.9,158.1 931.0,163.2 931.1,161.0 931.2,165.3 931.3,167.2 931.5,166.4 931.5,167.5 931.6,163.1 931.7,165.2 931.8,160.6 931.9,159.1 932.0,158.2 932.1,161.1 932.2,154.1 932.3,156.0 932.4,151.4 932.5,155.0 932.6,150.0 932.7,150.1 932.8,151.9 933.0,149.9 933.1,154.8 933.3,156.4 933.5,154.8 933.6,153.2 933.7,161.2 933.9,158.4 934.0,163.6 934.1,160.9 934.3,166.5 934.4,163.1 934.6,167.8 934.7,167.6 934.8,167.7 935.0,172.5 935.1,168.1 935.2,173.8 935.4,177.2 935.5,177.7 935.6,173.2 935.7,179.5 935.8,180.7 936.0,182.0 936.1,180.3 936.2,184.2 936.3,183.0 936.5,185.1 936.6,190.5 936.8,185.7 936.9,191.0 937.1,188.2 937.2,194.0 937.4,191.3 937.6,192.1 937.7,195.2 937.9,194.2 938.0,199.6 938.1,197.4 938.2,203.3 938.4,198.6 938.5,205.1 938.6,200.9 938.8,207.5 938.9,207.8 939.1,208.5 939.2,207.6 939.3,211.5 939.5,214.1 939.6,213.3 939.7,213.9 939.8,210.9 939.9,213.0 940.0,208.5 940.1,212.3 940.2,206.0 940.3,208.1 940.4,203.8 940.5,205.2 940.6,200.8 940.7,203.1 940.8,202.3 940.9,201.3 941.0,199.7 941.1,195.8 941.2,195.2 941.5,195.6 941.8,196.8 942.0,196.9 942.2,201.1 942.5,204.5 942.7,202.7 942.9,203.9 943.1,199.4 943.3,201.6 943.5,196.7 943.6,193.7 943.8,193.9 944.0,193.9 944.1,196.3 944.1,193.8 944.2,199.7 944.3,197.8 944.4,201.7 944.5,199.0 944.6,205.1 944.7,206.7 944.7,207.5 944.8,204.8 944.9,209.7 945.0,209.7 945.1,212.6 945.1,210.4 945.2,215.2 945.3,213.0 945.4,217.2 945.5,216.5 945.6,214.2 945.7,214.9 945.8,211.2 945.9,208.8 946.0,207.7 946.0,209.8 946.1,203.3 946.2,209.2 946.3,203.3 946.4,202.4 946.5,203.7 946.6,204.7 946.7,197.0 946.8,201.2 946.9,193.3 947.0,198.4 947.0,192.8 947.2,195.5 947.2,192.7 947.5,189.8 947.8,188.4 948.1,187.4 948.5,185.5 948.7,183.8 949.0,185.1 949.2,185.7 949.4,180.3 949.6,182.6 949.8,179.1 950.0,182.1 950.2,179.4 950.4,177.1 950.6,173.4 950.7,173.9 951.0,174.2 951.1,172.3 951.3,172.3 951.4,170.8 951.7,168.8 951.8,163.9 952.0,165.8 952.2,165.3 952.4,163.6 952.5,157.4 952.7,160.1 953.0,159.7 953.2,155.1 953.4,157.6 953.6,152.7 953.8,155.7 954.1,150.9 954.3,148.2 954.6,147.7 954.8,148.8 955.3,152.7 955.6,150.1 956.1,154.3 956.5,153.8 956.7,149.3 957.1,152.1 957.2,148.2 957.5,150.9 957.7,146.0 958.1,147.9 958.3,145.1 958.8,142.0 959.2,143.9 959.7,139.0 960.3,140.1 961.0,140.4 962.0,137.6 962.5,136.3 963.0,140.7 963.5,138.6 964.0,142.6 964.3,145.1 964.6,146.2 964.9,144.1 965.1,146.1 965.5,149.9 965.8,150.1 966.5,149.8 967.1,153.0 967.8,152.6 968.0,152.2 968.4,153.2 968.7,155.4 969.0,159.3 969.3,158.9 969.4,155.9 969.6,157.9 969.7,153.7 969.9,155.1 970.0,151.3 970.2,153.7 970.3,149.4 970.5,146.9 970.6,148.8 970.8,146.3 971.3,147.4 971.7,143.0 972.2,144.0 972.8,141.3 973.0,144.4 973.3,146.1 973.7,143.8 973.9,148.7 974.2,145.7 974.5,151.0 974.8,150.1 974.9,151.6 975.1,151.0 975.4,143.6 975.5,147.4 975.7,141.8 975.9,145.5 976.1,143.8 976.3,140.1 976.3,143.1 976.4,140.0 976.4,145.8 976.5,144.1 976.5,150.1 976.6,146.3 976.6,150.4 976.7,151.2 976.7,152.7 976.7,150.5 976.8,154.8 976.8,152.7 976.9,155.7 976.9,156.0 977.0,161.0 977.0,159.0 977.1,163.1 977.1,160.4 977.2,162.1 977.2,162.4 977.3,167.9 977.3,167.6 977.4,164.4 977.4,166.8 977.5,162.9 977.5,161.7 977.6,163.9 977.6,161.6 977.7,157.0 977.7,158.5 977.8,154.4 977.8,156.0 977.9,152.6 978.0,151.4 978.0,149.0 978.1,152.4 978.1,147.8 978.2,150.2 978.2,144.8 978.3,145.1 978.5,144.8 978.7,143.5 978.9,146.2 979.1,138.7 979.3,140.5 979.5,134.9 979.7,138.4 979.9,131.1 980.1,135.6 980.3,132.6 980.6,130.4 980.8,132.3 981.0,125.0 981.3,130.1 981.5,127.6 981.8,127.6 982.1,121.3 982.3,122.5 983.3,124.3 984.1,123.8 984.7,123.9 985.1,124.4 985.8,127.5 986.2,125.3 986.6,127.8 987.0,121.5 987.4,125.1 987.8,125.8 988.3,120.0 989.0,117.9 989.7,119.1 990.3,122.5 991.0,127.9 991.5,126.5 992.3,128.1 992.8,126.3 993.8,123.0 994.8,125.0 994.9,127.1 995.0,126.2 995.1,130.0 995.2,131.8 995.3,134.4 995.4,129.0 995.5,131.7 995.6,133.6 995.7,140.9 995.8,137.6 996.2,135.0 996.5,133.6 996.8,132.3 997.2,134.3 997.5,129.6 997.8,130.1 998.2,132.8 998.5,131.6 998.8,135.5 999.1,133.3 999.5,138.0 999.8,137.6 1000.1,134.4 1000.6,137.2 1000.9,132.5 1001.3,133.6 1001.6,131.3 1002.2,130.0 1002.8,136.3 1003.3,135.1 1004.3,133.6 1005.3,136.3 1005.7,136.7 1006.1,136.6 1006.5,133.7 1007.0,128.8 1007.3,130.1 1007.5,133.3 1007.7,131.2 1007.9,135.3 1008.1,134.3 1008.2,135.1 1008.4,135.2 1008.6,137.9 1008.7,137.2 1008.9,143.1 1009.1,142.6 1009.1,138.8 1009.2,142.1 1009.2,137.4 1009.3,139.8 1009.3,134.7 1009.3,134.0 1009.4,132.1 1009.4,133.4 1009.5,129.6 1009.5,133.6 1009.6,128.0 1009.6,129.2 1009.6,124.5 1009.7,120.8 1009.7,124.9 1009.8,124.3 1009.8,118.8 1009.8,120.0 1010.0,121.1 1010.3,115.4 1010.5,120.1 1010.7,112.7 1011.0,116.2 1011.2,114.5 1011.4,109.1 1011.6,110.0 1012.1,105.3 1012.4,105.3 1012.9,104.5 1013.4,105.0 1014.1,102.6 1014.6,101.5 1015.4,101.3 1014.7,104.8 1013.7,103.6 1014.2,101.3 1014.7,99.3 1015.1,99.9 1015.2,96.1 1015.4,95.0 1015.5,98.3 1015.7,95.6 1015.8,91.8 1016.0,94.1 1016.1,92.1 1016.3,92.1 1016.4,89.1 1016.6,85.8 1016.7,85.2 1016.9,83.4 1017.1,86.1 1017.2,80.5 1017.3,84.8 1017.5,81.0 1017.8,78.6 1018.1,79.5 1018.4,77.0 1019.8,77.7 1020.3,77.7 1020.7,81.8 1021.1,81.0 1021.5,83.0 1021.7,80.6 1022.1,77.0 1023.4,77.7 1023.8,77.1 1024.2,77.5 1024.7,78.1 1025.2,81.7 1025.4,81.1 1025.6,76.9 1025.9,80.8 1026.1,77.0 1026.5,73.6 1027.1,76.0 1027.4,73.0 1027.8,73.3 1028.1,77.0 1028.5,77.0 1028.8,76.9 1029.0,77.2 1029.3,71.9 1029.6,71.6 1030.1,71.0 1030.5,69.0 1030.7,70.4 1030.9,67.2 1031.1,62.1 1031.3,65.8 1031.5,62.2 1031.7,59.8 1031.9,60.8 1032.1,56.2 1032.3,59.5 1032.5,55.5 1032.8,52.0 1032.9,54.5 1033.2,55.3 1033.4,52.0 1033.6,48.8 1033.9,45.5 1034.1,48.1 1034.3,47.1 1034.5,41.7 1034.7,42.1 1035.2,43.1 1035.5,39.4 1035.6,38.1 1035.8,39.2 1035.9,44.2 1036.1,40.1 1036.3,43.1 1036.4,44.2 1036.6,47.5 1036.9,47.2 1037.3,43.1 1037.6,44.1 1038.4,46.3 1039.3,46.1 1039.6,46.0 1039.9,50.6 1040.2,46.7 1040.6,51.5 1041.1,53.5 1041.6,56.5 1042.2,55.5 1042.7,56.1 1043.3,52.8 1043.8,51.4 1044.2,57.7 1044.6,56.2 1045.3,52.0 1046.0,54.2 1046.2,56.5 1046.4,56.1 1046.6,59.7 1046.9,58.4 1047.0,60.9 1047.2,61.3 1047.4,57.8 1047.6,59.7 1047.8,58.0 1048.0,54.9 1048.2,51.4 1048.4,49.8 1048.6,52.6 1048.8,47.6 1048.9,48.8 1049.1,46.3 1049.4,47.7 1049.5,47.7 1049.8,46.2 1050.0,42.8 1050.7,38.9 1051.3,44.1 1052.0,41.8 1052.7,42.8 1052.8,45.7 1053.0,42.3 1053.1,47.2 1053.3,46.8 1053.4,50.1 1053.6,49.0 1053.7,53.6 1053.9,51.2 1054.0,54.2 1054.1,54.4 1054.2,50.9 1054.3,53.0 1054.3,48.2 1054.4,45.5 1054.5,45.9 1054.6,44.6 1054.6,42.3 1054.7,43.4 1055.0,44.9 1055.3,40.1 1055.6,40.1 1056.5,39.7"/>
<!-- dashed frame -->
<g fill="none" stroke="#dba62c" stroke-dasharray="4.3 1.8">
<line x1="10.8" y1="38.1" x2="1109.2" y2="38.1" stroke-width="1.85"/>
<line x1="10.8" y1="516.5" x2="1109.2" y2="516.5" stroke-width="1.85"/>
<line x1="11.5" y1="38.1" x2="11.5" y2="516.5" stroke-width="1.5" stroke-dasharray="4.7 1.4"/>
<line x1="1108.5" y1="38.1" x2="1108.5" y2="516.5" stroke-width="1.5" stroke-dasharray="4.7 1.4"/>
</g>
<!-- labels -->
<g class="lb">
<text x="319.1" y="232" fill="#000">A</text>
<text x="330.5" y="268.1" fill="#000">B</text>
<text x="343" y="301" fill="#ff0000">C</text>
<text x="365.1" y="360.8" fill="#000">D</text>
<text x="235.8" y="375.5" fill="#000">V</text>
<text x="571" y="145.5" fill="#000">P</text>
<text x="714.5" y="99" fill="#000">Q</text>
<text x="861.5" y="49.6" fill="#000">R</text>
<text x="648.6" y="242.4" fill="#000">X</text>
<text x="725.4" y="309.4" fill="#ff0000">M</text>
<text x="855.3" y="281.5" fill="#000">K</text>
<text x="911.3" y="280.2" fill="#ff0000">L</text>
<text x="1089" y="48.3" fill="#ff0000">S</text>
<text x="1080.5" y="91.1" fill="#ff0000">W</text>
</g>
<!-- trends box -->
<rect x="1016.3" y="323.3" width="93.2" height="183" fill="#ffffff" stroke="#dba62c" stroke-width="1"/>
<g class="tr">
<text transform="translate(1017.4,336.6) scale(1,0.89)" fill="#000" stroke="#000" xml:space="preserve" style="font-size:15.3px">Trends:</text>
<text transform="translate(1016.7,353.2) scale(1,0.89)" fill="#000" stroke="#000" xml:space="preserve"> K. 22,113</text>
<text transform="translate(1016.7,369.5) scale(1,0.89)" fill="#000" stroke="#000" xml:space="preserve"> X. 21,469</text>
<text transform="translate(1016.7,385.8) scale(1,0.89)" fill="#000" stroke="#000" xml:space="preserve"> B. 21,352</text>
<text transform="translate(1016.7,402.2) scale(1,0.89)" fill="#000" stroke="#000" xml:space="preserve"> &gt;&gt; 21,080</text>
<text transform="translate(1016.7,418.5) scale(1,0.89)" fill="#ff0000" stroke="#ff0000" xml:space="preserve"> S. 20,985</text>
<text transform="translate(1016.7,434.8) scale(1,0.89)" fill="#ff0000" stroke="#ff0000" xml:space="preserve"> L. 20,410</text>
<text transform="translate(1016.7,451.2) scale(1,0.89)" fill="#ff0000" stroke="#ff0000" xml:space="preserve"> C. 20,225</text>
<text transform="translate(1016.7,467.5) scale(1,0.89)" fill="#ff0000" stroke="#ff0000" xml:space="preserve"> W. 20,206</text>
<text transform="translate(1016.7,483.8) scale(1,0.89)" fill="#000" stroke="#000" xml:space="preserve"> R. 19,511</text>
<text transform="translate(1016.7,500.2) scale(1,0.89)" fill="#000" stroke="#000" xml:space="preserve"> D. 18,173</text>
</g>
<g class="ax">
<text x="13" y="20" textLength="62.7" lengthAdjust="spacingAndGlyphs">26-Apr-2005</text>
<text x="197.0" y="20" textLength="63.2" lengthAdjust="spacingAndGlyphs">11-Jun-2007</text>
<text x="378.8" y="20" textLength="60" lengthAdjust="spacingAndGlyphs">24-Jul-2009</text>
<text x="561.6" y="20" textLength="64" lengthAdjust="spacingAndGlyphs">01-Sep-2011</text>
<text x="744.5" y="20" textLength="63" lengthAdjust="spacingAndGlyphs">04-Oct-2013</text>
<text x="927.5" y="20" textLength="65" lengthAdjust="spacingAndGlyphs">16-Nov-2015</text>
<text x="1126.3" y="34.9" textLength="49" lengthAdjust="spacingAndGlyphs">21,115.55</text>
<text x="1126.3" y="49.6" textLength="37" lengthAdjust="spacingAndGlyphs">100.0%</text>
<text x="1126.3" y="235.7" textLength="48.2" lengthAdjust="spacingAndGlyphs">15,000.00</text>
<text x="1126.3" y="250.7" textLength="30.5" lengthAdjust="spacingAndGlyphs">71.0%</text>
<text x="1126.3" y="400" textLength="48.2" lengthAdjust="spacingAndGlyphs">10,000.00</text>
<text x="1126.3" y="415" textLength="30.5" lengthAdjust="spacingAndGlyphs">47.4%</text>
<text x="1126.3" y="513.4" textLength="43" lengthAdjust="spacingAndGlyphs">6,547.05</text>
<text x="1126.3" y="528.0" textLength="24.5" lengthAdjust="spacingAndGlyphs">0.0%</text>
</g>
</svg>
</body></html>
